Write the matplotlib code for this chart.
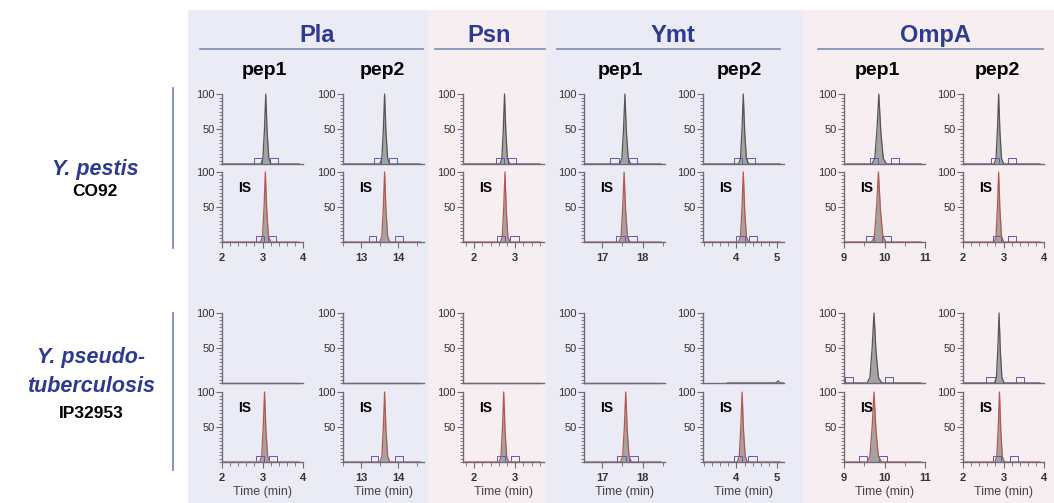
import numpy as np
import matplotlib
matplotlib.use("Agg")
import matplotlib.pyplot as plt
from matplotlib.patches import Rectangle
from matplotlib.ticker import MultipleLocator

plt.rcParams["font.family"] = ["Liberation Sans", "DejaVu Sans"]

# --- DATA ---
GROUPS = ["Pla", "Psn", "Ymt", "OmpA"]
PEPS = ["pep1", "pep2", "", "pep1", "pep2", "pep1", "pep2"]
STRAIN_1 = ["Y. pestis", "CO92"]
STRAIN_2 = ["Y. pseudo-", "tuberculosis", "IP32953"]

XLO = [2.0, 12.5, 1.73, 16.55, 3.17, 9.0, 2.0]
XHI = [4.0, 14.7, 3.70, 18.55, 5.18, 11.0, 4.0]
XMAJOR = [[2, 3, 4], [13, 14], [2, 3], [17, 18], [4, 5], [9, 10, 11], [2, 3, 4]]
XMINOR = [0.2, 0.5, 0.2, 0.5, 0.2, 0.5, 0.2]

# apex retention times (min); nan = no peak detected
RT_CO92 = [3.08, 13.63, 2.74, 17.56, 4.17, 9.86, 2.88]
RT_CO92_IS = [3.07, 13.63, 2.75, 17.54, 4.17, 9.85, 2.88]
RT_IP = [np.nan, np.nan, np.nan, np.nan, np.nan, 9.74, 2.89]
RT_IP_IS = [3.05, 13.63, 2.72, 17.58, 4.14, 9.74, 2.90]

# peak half width per column (min) and common peak profile
PEAK_HW = [0.07, 0.075, 0.065, 0.075, 0.07, 0.1, 0.065]
PROFILE_DT = [-1.7, -1.0, -0.45, 0.0, 0.5, 1.1, 1.9]
PROFILE_Y = [0, 8, 50, 100, 45, 8, 0]

# small noise bump in Ymt pep2 (IP32953)
BUMP_T = [4.98, 5.03, 5.08]
BUMP_Y = [0, 3, 0]

# integration boundary boxes: start of left box, start of right box
BOX_W = [0.2, 0.2, 0.2, 0.22, 0.22, 0.2, 0.2]
BOX_CO92 = [(2.78, 3.18), (13.34, 13.76), (2.53, 2.83), (17.20, 17.63), (3.93, 4.25), (9.63, 10.16), (2.70, 3.10)]
BOX_CO92_IS = [(2.84, 3.14), (13.20, 13.92), (2.55, 2.88), (17.35, 17.63), (3.98, 4.30), (9.55, 9.95), (2.75, 3.10)]
BOX_IP = [None, None, None, None, None, (9.02, 10.00), (2.58, 3.30)]
BOX_IP_IS = [(2.84, 3.15), (13.26, 13.92), (2.55, 2.90), (17.36, 17.67), (3.93, 4.28), (9.38, 9.87), (2.73, 3.15)]

# --- LAYOUT (pixels) ---
W, H = 1054, 503
AX_LEFT = [222, 343, 463, 584, 703, 844, 963]
AX_W = 81
ROW_TOP = [94, 172, 313, 392]
ROW_H = 70

LAVENDER = "#ebebf5"
PINK = "#f7eef2"
TITLE_BLUE = "#2c3a92"
LINE_BLUE = "#7d88b4"
AXIS_C = "#6e6a78"
FILL_C = "#a3a3a3"
LINE_DARK = "#555555"
LINE_IS = "#b4574e"
BOX_C = "#5a5ab8"

fig = plt.figure(figsize=(W / 100, H / 100), dpi=100)

bg = fig.add_axes([0, 0, 1, 1], zorder=-5)
bg.set_xlim(0, W)
bg.set_ylim(H, 0)
bg.axis("off")

for x0, x1, c in [(188, 428, LAVENDER), (428, 546, PINK), (546, 803, LAVENDER), (803, W, PINK)]:
    bg.add_patch(Rectangle((x0, 10), x1 - x0, H - 10, color=c, lw=0))

# group titles and rules
title_x = [317, 489, 673, 935]
rules = [(200, 423), (435, 545), (557, 780), (818, 1043)]
for name, tx, (r0, r1) in zip(GROUPS, title_x, rules):
    bg.text(tx, 35, name, ha="center", va="center", fontsize=17, fontweight="bold", color=TITLE_BLUE)
    bg.plot([r0, r1], [49, 49], color=LINE_BLUE, lw=1.2)

pep_x = [264, 382, None, 620, 739, 877, 997]
for p, px in zip(PEPS, pep_x):
    if p:
        bg.text(px, 70, p, ha="center", va="center", fontsize=14, fontweight="bold", color="black")

# strain labels
bg.text(95, 169, STRAIN_1[0], ha="center", va="center", fontsize=15.5, fontweight="bold",
        fontstyle="italic", color=TITLE_BLUE)
bg.text(95, 191, STRAIN_1[1], ha="center", va="center", fontsize=12.5, fontweight="bold", color="black")
bg.text(91, 357, STRAIN_2[0], ha="center", va="center", fontsize=15.5, fontweight="bold",
        fontstyle="italic", color=TITLE_BLUE)
bg.text(91, 387, STRAIN_2[1], ha="center", va="center", fontsize=15.5, fontweight="bold",
        fontstyle="italic", color=TITLE_BLUE)
bg.text(91, 413, STRAIN_2[2], ha="center", va="center", fontsize=12.5, fontweight="bold", color="black")
bg.plot([173, 173], [88, 248], color=LINE_BLUE, lw=1.3)
bg.plot([173, 173], [313, 470], color=LINE_BLUE, lw=1.3)

rows = [
    (RT_CO92, BOX_CO92, LINE_DARK, False, False),
    (RT_CO92_IS, BOX_CO92_IS, LINE_IS, True, True),
    (RT_IP, BOX_IP, LINE_DARK, False, False),
    (RT_IP_IS, BOX_IP_IS, LINE_IS, True, True),
]

for r, (rts, boxes, lc, is_row, xlab) in enumerate(rows):
    for c in range(7):
        left = AX_LEFT[c] / W
        bottom = 1 - (ROW_TOP[r] + ROW_H) / H
        ax = fig.add_axes([left, bottom, AX_W / W, ROW_H / H])
        ax.set_facecolor("none")
        ax.set_xlim(XLO[c], XHI[c])
        ax.set_ylim(0, 100)
        for s in ["top", "right"]:
            ax.spines[s].set_visible(False)
        for s in ["left", "bottom"]:
            ax.spines[s].set_color(AXIS_C)
            ax.spines[s].set_linewidth(1.0)

        ax.set_yticks([50, 100])
        ax.yaxis.set_minor_locator(MultipleLocator(5))
        ax.tick_params(axis="y", which="major", length=4, width=0.8, color=AXIS_C,
                       labelsize=8, labelcolor="#333333", pad=1)
        ax.tick_params(axis="y", which="minor", length=2.5, width=0.6, color=AXIS_C)

        ax.set_xticks(XMAJOR[c])
        ax.xaxis.set_minor_locator(MultipleLocator(XMINOR[c]))
        if xlab:
            ax.tick_params(axis="x", which="major", length=4, width=0.8, color=AXIS_C,
                           labelsize=8, labelcolor="#333333", pad=4)
            ax.tick_params(axis="x", which="minor", length=3, width=0.6, color=AXIS_C)
            for t in ax.get_xticklabels():
                t.set_fontweight("bold")
            if r == 3:
                ax.set_xlabel("Time (min)", fontsize=9, color="#444444", labelpad=2)
        else:
            ax.tick_params(axis="x", which="both", length=0, labelbottom=False)

        rt = rts[c]
        if np.isnan(rt):
            t = [XLO[c], XHI[c] - 0.05 * (XHI[c] - XLO[c])]
            y = [0, 0]
            if c == 4:
                t = [XLO[c] + 0.6] + BUMP_T + [XHI[c] - 0.02]
                y = [0] + BUMP_Y + [0]
            ax.plot(t, y, color=lc, lw=0.9, clip_on=False)
        else:
            pk_t = [rt + d * PEAK_HW[c] for d in PROFILE_DT]
            t = [XLO[c] + 0.02] + pk_t + [XHI[c] - 0.1]
            y = [0] + PROFILE_Y + [0]
            ax.fill_between(t, y, 0, color=FILL_C, lw=0, clip_on=False)
            ax.plot(t, y, color=lc, lw=0.9, clip_on=False)

        if boxes[c] is not None:
            for b0 in boxes[c]:
                ax.add_patch(Rectangle((b0, 0), BOX_W[c], 9, fill=False, edgecolor=BOX_C,
                                       lw=0.7, clip_on=False))
        if is_row:
            ax.text(0.28, 0.77, "IS", transform=ax.transAxes, ha="center", va="center",
                    fontsize=10, fontweight="bold", color="black")

fig.savefig("out.png", dpi=100)
